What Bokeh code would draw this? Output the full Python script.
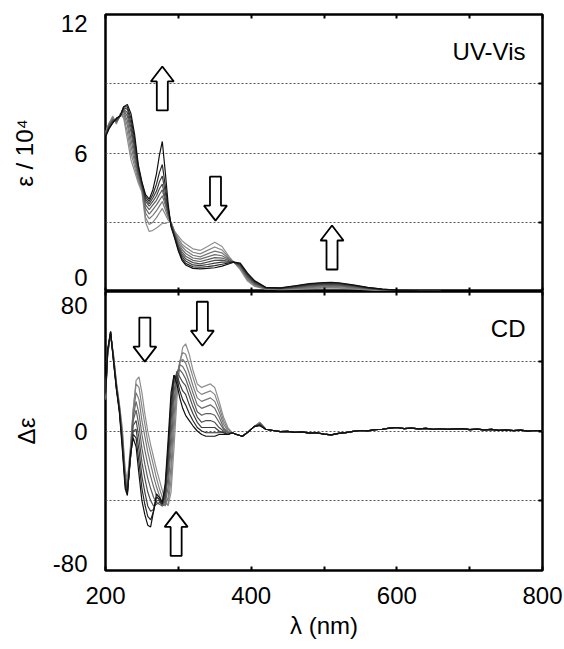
from bokeh.plotting import figure
from bokeh.models import Range1d, FixedTicker, LinearAxis, Label, Grid
from bokeh.layouts import column
from bokeh.embed import file_html
from bokeh.resources import INLINE

# ---------------- data ----------------
uv_wl = [200, 205, 210, 215, 220, 225, 230, 235, 240, 245, 250, 255, 260, 265, 270,
         274, 278, 282, 286, 290, 295, 300, 305, 310,
         320, 330, 340, 350, 360, 370, 376, 385, 395, 405, 420,
         440, 460, 480, 500, 510, 520, 540, 560, 580, 600, 630, 660, 700, 800]

uv_0 = [6.9, 7.3, 7.6, 7.25, 7.7, 7.5, 6.6, 5.7, 5.2, 4.7, 4.3, 3.0, 2.6, 2.65, 2.75,
        2.85, 2.95, 2.95, 3.0, 3.0, 2.6, 2.4, 2.2, 2.07,
        1.85, 1.78, 1.95, 2.13, 1.95, 1.5, 1.27, 0.95, 0.45, 0.22, 0.1,
        0.08, 0.09, 0.12, 0.15, 0.15, 0.14, 0.11, 0.07, 0.04, 0.02, 0.01, 0, 0, 0]
uv_1 = [6.9, 7.3, 7.55, 7.3, 7.65, 7.6, 6.9, 6.0, 5.4, 4.8, 4.4, 3.2, 2.9, 3.0, 3.2,
        3.4, 3.6, 3.35, 3.1, 3.0, 2.57, 2.3, 2.05, 1.92,
        1.7, 1.63, 1.78, 1.93, 1.8, 1.45, 1.27, 1.0, 0.5, 0.25, 0.11,
        0.09, 0.11, 0.14, 0.18, 0.18, 0.17, 0.13, 0.09, 0.05, 0.03, 0.01, 0, 0, 0]
uv_2 = [6.85, 7.25, 7.5, 7.35, 7.6, 7.7, 7.2, 6.3, 5.6, 4.9, 4.45, 3.4, 3.15, 3.3, 3.5,
        3.7, 3.9, 3.55, 3.2, 3.0, 2.55, 2.2, 1.95, 1.78,
        1.57, 1.5, 1.63, 1.75, 1.67, 1.41, 1.27, 1.04, 0.55, 0.28, 0.12,
        0.1, 0.13, 0.17, 0.21, 0.22, 0.21, 0.16, 0.1, 0.06, 0.03, 0.01, 0, 0, 0]
uv_3 = [6.85, 7.2, 7.45, 7.35, 7.6, 7.8, 7.4, 6.6, 5.8, 5.0, 4.5, 3.6, 3.35, 3.55, 3.75,
        3.95, 4.15, 3.75, 3.3, 2.95, 2.5, 2.1, 1.83, 1.65,
        1.45, 1.4, 1.5, 1.6, 1.55, 1.37, 1.27, 1.08, 0.6, 0.31, 0.13,
        0.11, 0.15, 0.2, 0.25, 0.26, 0.24, 0.18, 0.12, 0.07, 0.04, 0.02, 0.01, 0, 0]
uv_4 = [6.8, 7.2, 7.45, 7.4, 7.6, 7.85, 7.6, 6.9, 6.0, 5.1, 4.55, 3.75, 3.55, 3.75, 3.95,
        4.2, 4.4, 3.9, 3.35, 2.95, 2.47, 2.0, 1.72, 1.53,
        1.35, 1.3, 1.38, 1.47, 1.45, 1.33, 1.27, 1.11, 0.64, 0.34, 0.14,
        0.12, 0.17, 0.23, 0.28, 0.29, 0.27, 0.21, 0.13, 0.07, 0.04, 0.02, 0.01, 0, 0]
uv_5 = [6.8, 7.15, 7.4, 7.4, 7.6, 7.9, 7.75, 7.1, 6.2, 5.2, 4.6, 3.9, 3.7, 3.9, 4.15,
        4.45, 4.65, 4.05, 3.45, 2.9, 2.43, 1.95, 1.62, 1.42,
        1.25, 1.2, 1.27, 1.35, 1.36, 1.3, 1.27, 1.14, 0.68, 0.37, 0.15,
        0.13, 0.19, 0.26, 0.31, 0.32, 0.3, 0.23, 0.15, 0.08, 0.05, 0.02, 0.01, 0, 0]
uv_6 = [6.75, 7.1, 7.35, 7.45, 7.6, 7.95, 7.9, 7.3, 6.4, 5.3, 4.65, 4.0, 3.8, 4.05, 4.35,
        4.75, 5.0, 4.3, 3.55, 2.9, 2.4, 1.9, 1.52, 1.32,
        1.15, 1.12, 1.17, 1.23, 1.27, 1.27, 1.27, 1.17, 0.72, 0.4, 0.16,
        0.14, 0.21, 0.29, 0.34, 0.35, 0.33, 0.25, 0.16, 0.09, 0.05, 0.02, 0.01, 0, 0]
uv_7 = [6.7, 7.1, 7.3, 7.5, 7.6, 8.0, 8.0, 7.5, 6.6, 5.4, 4.7, 4.1, 3.9, 4.2, 4.65,
        5.15, 5.5, 4.6, 3.65, 2.85, 2.35, 1.82, 1.42, 1.22,
        1.07, 1.05, 1.08, 1.12, 1.18, 1.24, 1.27, 1.2, 0.76, 0.43, 0.17,
        0.15, 0.23, 0.32, 0.37, 0.38, 0.36, 0.27, 0.17, 0.1, 0.05, 0.02, 0.01, 0, 0]
uv_8 = [6.7, 7.05, 7.3, 7.5, 7.6, 8.0, 8.1, 7.7, 6.8, 5.5, 4.75, 4.2, 4.0, 4.4, 5.1,
        5.9, 6.5, 5.2, 3.8, 2.8, 2.3, 1.75, 1.35, 1.15,
        1.0, 0.98, 1.0, 1.03, 1.1, 1.2, 1.27, 1.23, 0.8, 0.46, 0.18,
        0.16, 0.25, 0.34, 0.39, 0.4, 0.38, 0.29, 0.18, 0.1, 0.06, 0.03, 0.01, 0, 0]

cd_wl = [200, 203, 207, 211, 215, 219, 223, 227, 230,
         234, 238, 242, 246, 250, 254, 258, 262, 266, 270,
         274, 278, 282, 286, 290, 294, 298, 302, 306, 310,
         315, 320, 326, 332, 338, 344, 350, 356, 362, 368,
         374, 380, 388, 396, 404, 412, 420]

cd_0 = [18, 44, 55, 44, 28, 16, 2, -22, -28,
        -10, 12, 29, 31, 22, 10, 0, -8, -15, -22,
        -28, -34, -40, -43, -35, -10, 18, 38, 48, 50,
        44, 35, 27, 25, 26, 27, 25, 17, 8, 2,
        -1, -2, -3, -0.5, 2.5, 5, 1]
cd_1 = [18, 44, 55, 43, 27, 15, 0, -24, -30,
        -12, 12, 27, 25, 14, 4, -6, -13, -20, -27,
        -33, -38, -42, -42, -28, 0, 25, 40, 45, 44,
        38, 31, 23, 21, 22, 23, 21, 14, 6, 1,
        -1, -2, -3, -0.5, 2.5, 5, 1]
cd_2 = [19, 45, 55, 43, 27, 14, -2, -26, -32,
        -14, 10, 22, 18, 6, -3, -12, -19, -26, -32,
        -37, -41, -43, -38, -20, 8, 30, 40, 41, 39,
        33, 26, 19, 17, 18, 19, 17, 11, 4, 0,
        -1, -2, -3, -0.5, 2.5, 4.5, 1]
cd_3 = [19, 45, 56, 42, 26, 14, -3, -27, -33,
        -15, 8, 17, 10, -2, -11, -19, -26, -32, -37,
        -40, -43, -42, -32, -10, 16, 33, 38, 37, 34,
        28, 22, 15, 13, 14, 15, 13, 8, 2, -1,
        -1, -2, -3, -0.5, 2.5, 4.5, 1]
cd_4 = [20, 45, 56, 42, 26, 13, -4, -28, -34,
        -16, 6, 12, 3, -10, -19, -27, -33, -38, -41,
        -42, -43, -40, -26, -2, 22, 34, 35, 33, 30,
        24, 18, 11, 9, 10, 10, 9, 5, 1, -1,
        -1, -2, -3, -0.5, 2.5, 4, 1]
cd_5 = [20, 46, 56, 41, 25, 13, -5, -29, -35,
        -17, 3, 6, -4, -18, -27, -35, -40, -43, -42,
        -41, -42, -38, -20, 6, 27, 34, 31, 28, 26,
        20, 14, 8, 5, 6, 6, 5, 2, 0, -2,
        -1, -2, -3, -0.5, 2.5, 4, 1]
cd_6 = [21, 46, 57, 41, 25, 12, -6, -30, -36,
        -17, 0, 1, -11, -26, -35, -43, -46, -45, -40,
        -40, -42, -35, -15, 12, 30, 32, 27, 23, 21,
        15, 10, 5, 2, 2, 2, 2, 0, -1, -2,
        -1, -2, -3, -0.5, 2.5, 3.5, 1]
cd_7 = [21, 46, 57, 40, 24, 12, -8, -31, -36,
        -16, -2, -4, -18, -33, -42, -49, -51, -46, -38,
        -39, -42, -33, -10, 17, 32, 30, 23, 18, 15,
        10, 6, 2, 0, -1, -1, -1, -1, -1, -2,
        -1, -2, -3, -0.5, 2.5, 3.5, 1]
cd_8 = [22, 47, 57, 40, 24, 11, -10, -33, -37,
        -14, -4, -9, -25, -40, -48, -54, -55, -46, -36,
        -38, -41, -30, -5, 22, 32, 27, 19, 13, 9,
        6, 3, 0, -2, -3, -3, -3, -2, -2, -2,
        -1, -2, -3, -0.5, 2.5, 3, 1]

# common CD baseline beyond 420 nm (shared by all traces)
cd_tail_wl = [430, 440, 450, 460, 470, 480, 490, 500, 510, 520, 530, 540, 550, 560,
              570, 580, 590, 600, 610, 620, 630, 640, 650, 660, 670, 680, 690, 700,
              710, 720, 730, 740, 750, 760, 770, 780, 790, 800]
cd_tail = [0.3, -0.4, -0.2, -0.8, -0.5, -1.2, -1.0, -1.8, -2.2, -1.4, -0.9, -0.2, 0.3, 0.1,
           0.8, 1.0, 1.6, 2.0, 1.4, 1.7, 1.2, 1.5, 1.0, 1.3, 0.9, 1.2, 1.4, 0.8,
           1.1, 0.6, 0.9, 0.4, 0.7, 0.2, 0.5, -0.1, 0.3, 0.1]

uv_series = [uv_0, uv_1, uv_2, uv_3, uv_4, uv_5, uv_6, uv_7, uv_8]
cd_series = [cd_0, cd_1, cd_2, cd_3, cd_4, cd_5, cd_6, cd_7, cd_8]

x_ticks = [200, 300, 400, 500, 600, 700, 800]
x_tick_labels = {300: "", 500: "", 700: ""}
# y tick labels; the end labels sit just inside the range, as in the reference
uv_label_ticks = [0.6, 6, 11.63]
uv_label_text = {0.6: "0", 6: "6", 11.63: "12"}
cd_label_ticks = [-75.9, 0, 72.0]
cd_label_text = {-75.9: "-80", 0: "0", 72.0: "80"}
uv_grid = [3, 6, 9]
cd_grid = [-40, 0, 40]

# annotation arrows: x (nm), tip (data), direction (+1 up, -1 down)
uv_arrow_x = [278, 351, 511]
uv_arrow_tip = [9.75, 3.07, 2.86]
uv_arrow_dir = [1, -1, 1]
cd_arrow_x = [254, 333, 297]
cd_arrow_tip = [39.8, 48.9, -46.4]
cd_arrow_dir = [-1, -1, 1]

# ---------------- styling ----------------
FONT = "Liberation Sans"
W = 564
FL, FR = 105, 22
TOP_H, TOP_T = 291, 14
BOT_H, BOT_B = 358, 79
line_colors = ["#8f8f8f", "#848484", "#787878", "#6b6b6b", "#5d5d5d",
               "#4e4e4e", "#3c3c3c", "#282828", "#101010"]


def base_fig(height, yr, border_top, border_bottom):
    p = figure(width=W, height=height, x_range=Range1d(200, 800), y_range=Range1d(*yr),
               output_backend="svg", toolbar_location=None,
               x_axis_location=None, y_axis_location=None,
               min_border_left=FL, min_border_right=FR,
               min_border_top=border_top, min_border_bottom=border_bottom)
    p.grid.visible = False
    p.outline_line_color = "black"
    p.outline_line_width = 2.5
    p.background_fill_color = "white"
    p.border_fill_color = "white"
    return p


def tick_axis(ticks, overrides=None, tick_in=4):
    ax = LinearAxis(ticker=FixedTicker(ticks=ticks))
    ax.axis_line_color = None
    ax.major_tick_in = tick_in
    ax.major_tick_out = 0
    ax.major_tick_line_width = 2
    ax.major_tick_line_color = "black"
    ax.minor_tick_line_color = None
    ax.major_label_text_font = FONT
    ax.major_label_text_font_size = "24px"
    ax.major_label_text_color = "black"
    if overrides is None:
        ax.major_label_overrides = {t: "" for t in ticks}
        ax.major_label_text_font_size = "0px"
        ax.major_label_standoff = 0
    else:
        ax.major_label_overrides = overrides
    return ax


def style_label(ax, text, standoff):
    ax.axis_label = text
    ax.axis_label_standoff = standoff
    ax.axis_label_text_font = FONT
    ax.axis_label_text_font_size = "24px"
    ax.axis_label_text_font_style = "normal"
    ax.axis_label_text_color = "black"


def add_grid(p, ticks):
    g = Grid(dimension=1, ticker=FixedTicker(ticks=ticks),
             grid_line_color="#555555", grid_line_width=1, grid_line_dash="2 2")
    p.add_layout(g, "center")


def add_arrows(p, xs_c, tips, dirs, sx, sy):
    L, sw, hw, hh = 44.0, 5.5, 11.5, 15.0
    xs, ys = [], []
    for xc, tip, d in zip(xs_c, tips, dirs):
        yh = tip - d * hh / sy
        yb = tip - d * L / sy
        xs.append([xc, xc + hw / sx, xc + sw / sx, xc + sw / sx,
                   xc - sw / sx, xc - sw / sx, xc - hw / sx])
        ys.append([tip, yh, yh, yb, yb, yh, yh])
    p.patches(xs, ys, fill_color="white", line_color="black", line_width=1.8)


sx = (W - FL - FR) / 600.0

# ---------------- top panel: UV-Vis ----------------
top = base_fig(TOP_H, (0, 12), TOP_T, 0)
add_grid(top, uv_grid)
for ys, c in zip(uv_series, line_colors):
    top.line(uv_wl, ys, line_color=c, line_width=1.2)

left = tick_axis(uv_label_ticks, overrides=uv_label_text, tick_in=0)
left.major_label_standoff = 18
style_label(left, "ε / 10⁴", 20)
top.add_layout(left, "left")
top.add_layout(tick_axis(uv_grid), "right")
top.add_layout(tick_axis(x_ticks), "above")
top.add_layout(tick_axis(x_ticks), "below")

add_arrows(top, uv_arrow_x, uv_arrow_tip, uv_arrow_dir, sx, (TOP_H - TOP_T) / 12.0)
top.add_layout(Label(x=800, y=10.4, x_offset=-17, text="UV-Vis", text_align="right",
                     text_baseline="middle", text_font=FONT, text_font_size="24px",
                     text_color="black"))

# ---------------- bottom panel: CD ----------------
bot = base_fig(BOT_H, (-80, 80), 0, BOT_B)
add_grid(bot, cd_grid)
for ys, c in zip(cd_series, line_colors):
    bot.line(cd_wl + cd_tail_wl, ys + cd_tail, line_color=c, line_width=1.2)

left2 = tick_axis(cd_label_ticks, overrides=cd_label_text, tick_in=0)
left2.major_label_standoff = 18
style_label(left2, "Δε", 10)
bot.add_layout(left2, "left")
bot.add_layout(tick_axis(cd_grid), "right")
bot.add_layout(tick_axis(x_ticks), "above")
bottom_ax = tick_axis(x_ticks, overrides=x_tick_labels)
bottom_ax.major_label_standoff = 16
style_label(bottom_ax, "λ (nm)", 5)
bot.add_layout(bottom_ax, "below")

add_arrows(bot, cd_arrow_x, cd_arrow_tip, cd_arrow_dir, sx, (BOT_H - BOT_B) / 160.0)
bot.add_layout(Label(x=800, y=59, x_offset=-17, text="CD", text_align="right",
                     text_baseline="middle", text_font=FONT, text_font_size="24px",
                     text_color="black"))

layout = column(top, bot, spacing=0)
open("out.html", "w").write(file_html(layout, INLINE))
